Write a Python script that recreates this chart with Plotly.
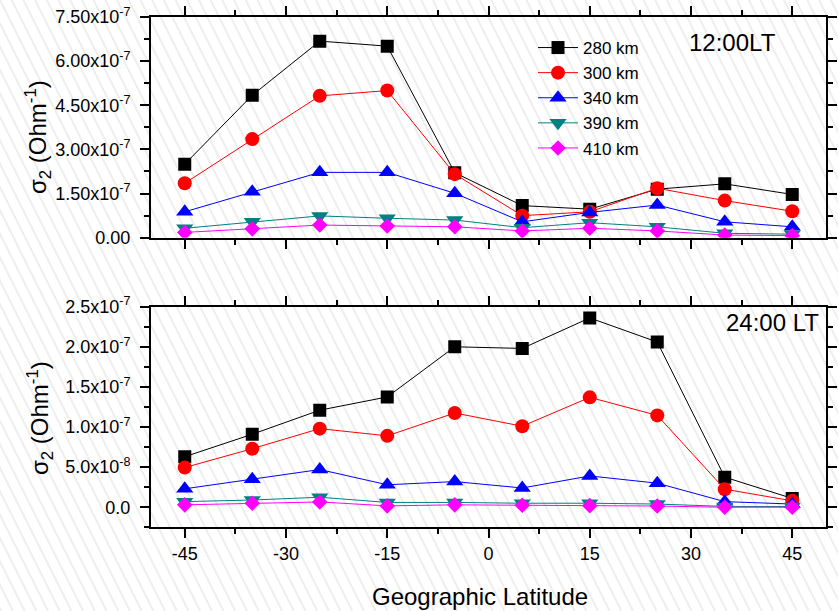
import plotly.graph_objects as go

W, H = 838, 611

latitude = [-45, -35, -25, -15, -5, 5, 15, 25, 35, 45]
altitudes = ["280 km", "300 km", "340 km", "390 km", "410 km"]

# 12:00 LT  (Ohm^-1)
noon_280 = [2.50e-7, 4.84e-7, 6.68e-7, 6.51e-7, 2.21e-7, 1.09e-7, 0.97e-7, 1.65e-7, 1.83e-7, 1.47e-7]
noon_300 = [1.85e-7, 3.35e-7, 4.82e-7, 5.00e-7, 2.16e-7, 0.75e-7, 0.88e-7, 1.68e-7, 1.26e-7, 0.90e-7]
noon_340 = [0.88e-7, 1.56e-7, 2.22e-7, 2.22e-7, 1.51e-7, 0.54e-7, 0.86e-7, 1.11e-7, 0.54e-7, 0.37e-7]
noon_390 = [0.32e-7, 0.54e-7, 0.74e-7, 0.66e-7, 0.60e-7, 0.34e-7, 0.51e-7, 0.37e-7, 0.15e-7, 0.12e-7]
noon_410 = [0.18e-7, 0.30e-7, 0.43e-7, 0.40e-7, 0.37e-7, 0.23e-7, 0.32e-7, 0.23e-7, 0.09e-7, 0.07e-7]

# 24:00 LT  (Ohm^-1)
night_280 = [6.3e-8, 9.1e-8, 12.1e-8, 13.75e-8, 20.0e-8, 19.8e-8, 23.6e-8, 20.6e-8, 3.75e-8, 1.1e-8]
night_300 = [4.95e-8, 7.3e-8, 9.8e-8, 8.9e-8, 11.75e-8, 10.1e-8, 13.7e-8, 11.45e-8, 2.25e-8, 0.8e-8]
night_340 = [2.3e-8, 3.5e-8, 4.7e-8, 2.8e-8, 3.2e-8, 2.4e-8, 3.9e-8, 3.0e-8, 0.7e-8, 0.4e-8]
night_390 = [0.7e-8, 0.9e-8, 1.25e-8, 0.6e-8, 0.6e-8, 0.5e-8, 0.5e-8, 0.4e-8, 0.1e-8, 0.1e-8]
night_410 = [0.3e-8, 0.5e-8, 0.66e-8, 0.17e-8, 0.3e-8, 0.25e-8, 0.2e-8, 0.15e-8, 0.0, 0.0]

x_tickvals = [-45, -30, -15, 0, 15, 30, 45]
x_ticktext = ["-45", "-30", "-15", "0", "15", "30", "45"]
top_tickvals = [0, 1.5e-7, 3.0e-7, 4.5e-7, 6.0e-7, 7.5e-7]
top_ticktext = ["0.00", "1.50x10<sup>-7</sup>", "3.00x10<sup>-7</sup>", "4.50x10<sup>-7</sup>",
                "6.00x10<sup>-7</sup>", "7.50x10<sup>-7</sup>"]
bot_tickvals = [0, 0.5e-7, 1.0e-7, 1.5e-7, 2.0e-7, 2.5e-7]
bot_ticktext = ["0.0", "5.0x10<sup>-8</sup>", "1.0x10<sup>-7</sup>", "1.5x10<sup>-7</sup>",
                "2.0x10<sup>-7</sup>", "2.5x10<sup>-7</sup>"]

noon_series = [noon_280, noon_300, noon_340, noon_390, noon_410]
night_series = [night_280, night_300, night_340, night_390, night_410]
colors = ["#000000", "#FF0000", "#0000FF", "#008080", "#FF00FF"]
symbols = ["square", "circle", "triangle-up", "triangle-down", "diamond"]
sizes = [13, 14, 15, 15, 12]

FONT = "Arial, Liberation Sans, sans-serif"

fig = go.Figure()
for name, ys, c, s, sz in zip(altitudes, noon_series, colors, symbols, sizes):
    fig.add_trace(go.Scatter(x=latitude, y=ys, name=name, mode="lines+markers",
                             line=dict(color=c, width=1),
                             marker=dict(symbol=s, size=sz, color=c, line=dict(width=0)),
                             xaxis="x", yaxis="y"))
for name, ys, c, s, sz in zip(altitudes, night_series, colors, symbols, sizes):
    fig.add_trace(go.Scatter(x=latitude, y=ys, name=name, mode="lines+markers",
                             line=dict(color=c, width=1),
                             marker=dict(symbol=s, size=sz, color=c, line=dict(width=0)),
                             xaxis="x2", yaxis="y2", showlegend=False))

xd = [151 / W, 826 / W]
top_dom = [1 - 237.7 / H, 1 - 17 / H]
bot_dom = [1 - 527.3 / H, 1 - 306.7 / H]

common = dict(showline=True, linecolor="black", linewidth=2, mirror="allticks",
              ticks="outside", ticklen=9, tickwidth=2, tickcolor="black",
              showgrid=False, zeroline=False, automargin=False,
              tickfont=dict(family=FONT, size=18, color="black"))

fig.update_layout(
    width=W, height=H,
    margin=dict(l=0, r=0, t=0, b=0, pad=0, autoexpand=False),
    paper_bgcolor="white", plot_bgcolor="rgba(0,0,0,0)",
    font=dict(family=FONT, color="black"),
    xaxis=dict(domain=xd, range=[-50, 50], anchor="y", tickmode="array",
               tickvals=x_tickvals, ticktext=x_ticktext, showticklabels=False,
               minor=dict(ticks="outside", ticklen=5, tickwidth=2, tickcolor="black",
                          tickmode="linear", tick0=-37.5, dtick=15),
               **common),
    yaxis=dict(domain=top_dom, range=[0, 7.5e-7], anchor="x", tickmode="array",
               tickvals=top_tickvals, ticktext=top_ticktext, ticklabelstandoff=6,
               minor=dict(ticks="outside", ticklen=5, tickwidth=2, tickcolor="black",
                          tickmode="linear", tick0=0.75e-7, dtick=1.5e-7),
               **common),
    xaxis2=dict(domain=xd, range=[-50, 50], anchor="y2", tickmode="array",
                tickvals=x_tickvals, ticktext=x_ticktext,
                minor=dict(ticks="outside", ticklen=5, tickwidth=2, tickcolor="black",
                           tickmode="linear", tick0=-37.5, dtick=15),
                **common),
    yaxis2=dict(domain=bot_dom, range=[-2.5e-8, 2.5e-7], anchor="x2", tickmode="array",
                tickvals=bot_tickvals, ticktext=bot_ticktext, ticklabelstandoff=6,
                minor=dict(ticks="outside", ticklen=5, tickwidth=2, tickcolor="black",
                           tickmode="linear", tick0=2.5e-8, dtick=5e-8),
                **common),
    legend=dict(x=533 / W, y=1 - 30 / H, xanchor="left", yanchor="top",
                bgcolor="rgba(0,0,0,0)", font=dict(family=FONT, size=17, color="black"),
                tracegroupgap=0, itemwidth=40),
    showlegend=True,
)

# Annotations (texts)
ann = [
    dict(x=732 / W, y=1 - 43 / H, text="12:00LT", font=dict(size=24)),
    dict(x=772 / W, y=1 - 322 / H, text="24:00 LT", font=dict(size=24)),
    dict(x=480 / W, y=1 - 596 / H, text="Geographic Latitude", font=dict(size=24)),
    dict(x=38 / W, y=1 - 137 / H, text="σ<sub>2</sub> (Ohm<sup>-1</sup>)", font=dict(size=24), textangle=-90),
    dict(x=40 / W, y=1 - 418 / H, text="σ<sub>2</sub> (Ohm<sup>-1</sup>)", font=dict(size=24), textangle=-90),
]
for a in ann:
    a.update(xref="paper", yref="paper", showarrow=False, xanchor="center", yanchor="middle")
    a["font"].update(family=FONT, color="black")
    fig.add_annotation(**a)

# faint diagonal background stripes
path = []
step = 11.7
k = -40
while k * step < W + 20:
    x0 = k * step
    x1 = x0 + H * 0.5
    path.append(f"M{x0 / W:.5f},1 L{x1 / W:.5f},0")
    k += 1
fig.add_shape(type="path", path=" ".join(path), xref="paper", yref="paper",
              line=dict(color="#eeeeee", width=2), layer="below")

fig.write_html("out.html")
